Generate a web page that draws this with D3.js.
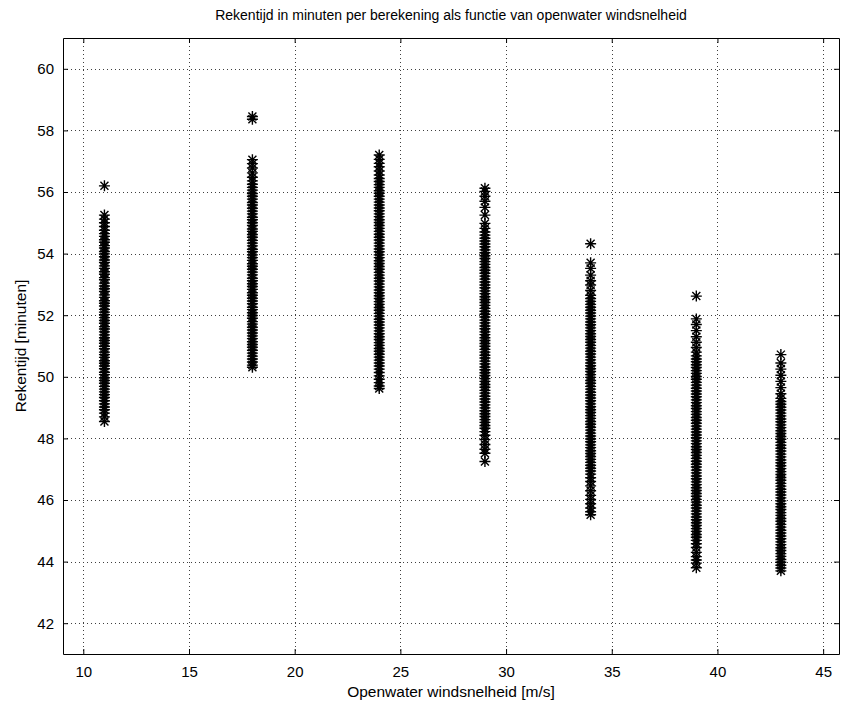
<!DOCTYPE html>
<html>
<head>
<meta charset="utf-8">
<script src="https://cdn.jsdelivr.net/npm/d3@7"></script>
<style>
  body { margin: 0; background: #fff; }
  text { font-family: "Liberation Sans", Arial, sans-serif; fill: #000; }
</style>
</head>
<body>
<script>
// wind speeds (x positions of the columns)
const windSpeeds = [11, 18, 24, 29, 34, 39, 43]

// computation time in minutes, one list per wind speed
const time11 = [56.2, 55.25, 55.12, 55.0, 54.88, 54.76, 54.65, 54.56, 54.45, 54.37, 54.26, 54.18, 54.07, 53.99, 53.9, 53.79, 53.71, 53.6, 53.52, 53.41,
  53.33, 53.22, 53.15, 53.04, 52.95, 52.86, 52.77, 52.66, 52.58, 52.47, 52.39, 52.3, 52.19, 52.1, 52.02, 51.92, 51.83, 51.74, 51.63, 51.55,
  51.46, 51.36, 51.27, 51.18, 51.09, 50.99, 50.91, 50.8, 50.72, 50.63, 50.52, 50.44, 50.35, 50.26, 50.15, 50.07, 49.97, 49.88, 49.79, 49.69,
  49.6, 49.51, 49.42, 49.33, 49.22, 49.12, 49.02, 48.93, 48.82, 48.7, 48.55]
const time18 = [58.45, 58.36, 57.05, 56.92, 56.78, 56.62, 56.48, 56.36, 56.25, 56.15, 56.06, 55.95, 55.86, 55.77, 55.66, 55.58, 55.47, 55.38, 55.29, 55.18,
  55.1, 55.0, 54.91, 54.8, 54.72, 54.62, 54.53, 54.43, 54.34, 54.25, 54.14, 54.06, 53.96, 53.87, 53.78, 53.67, 53.59, 53.49, 53.4, 53.31,
  53.2, 53.12, 53.02, 52.93, 52.84, 52.73, 52.65, 52.55, 52.46, 52.37, 52.26, 52.18, 52.08, 51.99, 51.9, 51.79, 51.71, 51.61, 51.52, 51.42,
  51.33, 51.24, 51.14, 51.05, 50.96, 50.86, 50.77, 50.67, 50.58, 50.48, 50.38, 50.31]
const time24 = [57.2, 57.06, 56.93, 56.82, 56.68, 56.55, 56.44, 56.34, 56.24, 56.15, 56.04, 55.96, 55.86, 55.77, 55.67, 55.58, 55.48, 55.39, 55.29, 55.2,
  55.1, 55.01, 54.91, 54.82, 54.72, 54.63, 54.53, 54.44, 54.34, 54.25, 54.15, 54.06, 53.96, 53.87, 53.77, 53.68, 53.58, 53.49, 53.39, 53.3,
  53.2, 53.11, 53.01, 52.92, 52.82, 52.73, 52.63, 52.54, 52.44, 52.35, 52.25, 52.16, 52.06, 51.97, 51.87, 51.78, 51.68, 51.59, 51.49, 51.4,
  51.3, 51.21, 51.11, 51.02, 50.92, 50.83, 50.73, 50.64, 50.54, 50.45, 50.35, 50.25, 50.14, 50.03, 49.92, 49.81, 49.7, 49.62]
const time29 = [56.12, 56.02, 55.86, 55.7, 55.5, 55.25, 54.98, 54.82, 54.7, 54.6, 54.5, 54.41, 54.31, 54.22, 54.12, 54.03, 53.93, 53.84, 53.74, 53.65,
  53.55, 53.46, 53.36, 53.27, 53.17, 53.08, 52.98, 52.89, 52.79, 52.7, 52.6, 52.51, 52.41, 52.32, 52.22, 52.13, 52.03, 51.94, 51.84, 51.75,
  51.65, 51.56, 51.46, 51.37, 51.27, 51.18, 51.08, 50.99, 50.89, 50.8, 50.7, 50.61, 50.51, 50.42, 50.32, 50.23, 50.13, 50.04, 49.94, 49.85,
  49.75, 49.66, 49.56, 49.47, 49.37, 49.28, 49.18, 49.09, 48.99, 48.9, 48.8, 48.71, 48.61, 48.52, 48.42, 48.33, 48.22, 48.1, 47.96, 47.8,
  47.65, 47.52, 47.25]
const time34 = [54.32, 53.7, 53.52, 53.3, 53.12, 52.98, 52.8, 52.65, 52.54, 52.45, 52.35, 52.26, 52.16, 52.07, 51.97, 51.88, 51.78, 51.69, 51.59, 51.5,
  51.4, 51.31, 51.21, 51.12, 51.02, 50.93, 50.83, 50.74, 50.64, 50.55, 50.45, 50.36, 50.26, 50.17, 50.07, 49.98, 49.88, 49.79, 49.69, 49.6,
  49.5, 49.41, 49.31, 49.22, 49.12, 49.03, 48.93, 48.84, 48.74, 48.65, 48.55, 48.46, 48.36, 48.27, 48.17, 48.08, 47.98, 47.89, 47.79, 47.7,
  47.6, 47.51, 47.41, 47.32, 47.22, 47.13, 47.03, 46.94, 46.84, 46.72, 46.6, 46.46, 46.3, 46.15, 46.02, 45.88, 45.74, 45.62, 45.52]
const time39 = [52.62, 51.88, 51.7, 51.5, 51.3, 51.12, 50.95, 50.8, 50.68, 50.58, 50.49, 50.39, 50.3, 50.2, 50.11, 50.01, 49.92, 49.82, 49.73, 49.63,
  49.54, 49.44, 49.35, 49.25, 49.16, 49.06, 48.97, 48.87, 48.78, 48.68, 48.59, 48.49, 48.4, 48.3, 48.21, 48.11, 48.02, 47.92, 47.83, 47.73,
  47.64, 47.54, 47.45, 47.35, 47.26, 47.16, 47.07, 46.97, 46.88, 46.78, 46.69, 46.59, 46.5, 46.4, 46.31, 46.21, 46.12, 46.02, 45.93, 45.83,
  45.74, 45.64, 45.55, 45.45, 45.36, 45.26, 45.17, 45.07, 44.98, 44.88, 44.79, 44.69, 44.58, 44.46, 44.3, 44.16, 44.05, 43.95, 43.8]
const time43 = [50.72, 50.45, 50.25, 50.05, 49.85, 49.65, 49.45, 49.3, 49.2, 49.11, 49.01, 48.92, 48.82, 48.73, 48.63, 48.54, 48.44, 48.35, 48.25, 48.16,
  48.06, 47.97, 47.87, 47.78, 47.68, 47.59, 47.49, 47.4, 47.3, 47.21, 47.11, 47.02, 46.92, 46.83, 46.73, 46.64, 46.54, 46.45, 46.35, 46.26,
  46.16, 46.07, 45.97, 45.88, 45.78, 45.69, 45.59, 45.5, 45.4, 45.31, 45.21, 45.12, 45.02, 44.93, 44.83, 44.74, 44.64, 44.55, 44.45, 44.36,
  44.26, 44.17, 44.07, 43.98, 43.88, 43.79, 43.7]

const timeSeries = [time11, time18, time24, time29, time34, time39, time43]

const xTicks = [10, 15, 20, 25, 30, 35, 40, 45]
const yTicks = [42, 44, 46, 48, 50, 52, 54, 56, 58, 60]

// size of the figure and the axes box
const m = { width: 842, height: 707, left: 63, right: 839, top: 38, bottom: 654 }

const svg = d3.select('body').append('svg')
    .attr('width', m.width)
    .attr('height', m.height)

svg.append('rect')
    .attr('width', m.width)
    .attr('height', m.height)
    .attr('fill', '#fff')

const x = d3.scaleLinear().domain([9.04, 45.75]).range([m.left, m.right])
const y = d3.scaleLinear().domain([41, 61]).range([m.bottom, m.top])

//dotted grid lines
const grid = svg.append('g')
    .attr('stroke', '#000')
    .attr('stroke-width', 1)
    .attr('stroke-dasharray', '1,3')
    .attr('opacity', 0.75)

grid.selectAll('.gx')
    .data(xTicks)
    .enter()
    .append('line')
        .attr('x1', d => Math.round(x(d)) + 0.5)
        .attr('x2', d => Math.round(x(d)) + 0.5)
        .attr('y1', m.top)
        .attr('y2', m.bottom)

grid.selectAll('.gy')
    .data(yTicks)
    .enter()
    .append('line')
        .attr('x1', m.left)
        .attr('x2', m.right)
        .attr('y1', d => Math.round(y(d)) + 0.5)
        .attr('y2', d => Math.round(y(d)) + 0.5)

//asterisk marker, like matlab's '*'
const star = 'M-5.5,0H5.5M0,-5.5V5.5M-4,-4L4,4M-4,4L4,-4'

const points = []
windSpeeds.forEach((w, i) => {
    timeSeries[i].forEach(t => points.push({ w: w, t: t }))
})

svg.append('g')
    .selectAll('path')
    .data(points)
    .enter()
    .append('path')
        .attr('transform', d => `translate(${x(d.w)},${y(d.t)})`)
        .attr('d', star)
        .attr('fill', 'none')
        .attr('stroke', '#000')
        .attr('stroke-width', 1.4)

//axes on all four sides, ticks pointing inward
const tickLen = 5
svg.append('g')
    .attr('transform', `translate(0,${m.bottom})`)
    .call(d3.axisBottom(x).tickValues(xTicks).tickSizeInner(-tickLen).tickSizeOuter(0).tickPadding(12))
svg.append('g')
    .attr('transform', `translate(0,${m.top})`)
    .call(d3.axisTop(x).tickValues(xTicks).tickSizeInner(-tickLen).tickSizeOuter(0).tickFormat(''))
svg.append('g')
    .attr('transform', `translate(${m.left},0)`)
    .call(d3.axisLeft(y).tickValues(yTicks).tickSizeInner(-tickLen).tickSizeOuter(0).tickPadding(9))
svg.append('g')
    .attr('transform', `translate(${m.right},0)`)
    .call(d3.axisRight(y).tickValues(yTicks).tickSizeInner(-tickLen).tickSizeOuter(0).tickFormat(''))

svg.selectAll('.tick text')
    .attr('font-size', '15px')
    .attr('font-family', '"Liberation Sans", Arial, sans-serif')
svg.selectAll('.domain').attr('stroke', '#000')

//title and axis labels
svg.append('text')
    .attr('x', (m.left + m.right) / 2)
    .attr('y', 20)
    .attr('text-anchor', 'middle')
    .attr('font-size', '14px')
    .text('Rekentijd in minuten per berekening als functie van openwater windsnelheid')

svg.append('text')
    .attr('x', (m.left + m.right) / 2)
    .attr('y', 697)
    .attr('text-anchor', 'middle')
    .attr('font-size', '15.5px')
    .text('Openwater windsnelheid [m/s]')

svg.append('text')
    .attr('transform', `translate(26,${(m.top + m.bottom) / 2}) rotate(-90)`)
    .attr('text-anchor', 'middle')
    .attr('font-size', '15.5px')
    .text('Rekentijd [minuten]')
</script>
</body>
</html>
